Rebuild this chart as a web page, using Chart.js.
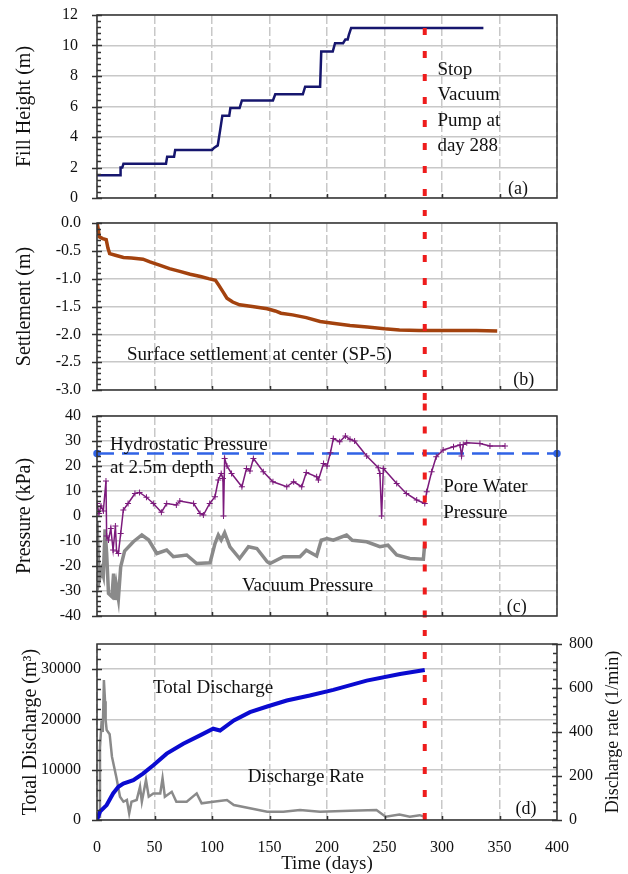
<!DOCTYPE html>
<html>
<head>
<meta charset="utf-8">
<script src="https://cdn.jsdelivr.net/npm/chart.js@4.4.1/dist/chart.umd.min.js"></script>
<style>
	body { margin: 0; background: #fff; width: 628px; height: 874px; position: relative; overflow: hidden; }
	.panel { position: absolute; left: 0; width: 628px; }
</style>
</head>
<body>
<div class="panel" style="top:0;height:210px"><canvas id="fillChart"></canvas></div>
<div class="panel" style="top:210px;height:193px"><canvas id="settleChart"></canvas></div>
<div class="panel" style="top:403px;height:227px"><canvas id="pressureChart"></canvas></div>
<div class="panel" style="top:630px;height:244px"><canvas id="dischargeChart"></canvas></div>
<script>
// ---- values ----
const stopLineDay = 285;

// (a) fill height (m)
const fillDays = [0, 20, 20.5, 22, 23, 60, 61, 67, 68, 100, 102, 105, 107, 109, 115, 116, 124, 126, 153, 155, 179, 181, 194, 195, 205, 207, 214, 216, 218, 219, 221, 336];
const fillHeight = [1.5, 1.5, 2.0, 2.0, 2.25, 2.25, 2.7, 2.7, 3.15, 3.15, 3.3, 3.45, 4.4, 5.4, 5.4, 5.9, 5.9, 6.4, 6.4, 6.8, 6.8, 7.3, 7.3, 9.6, 9.6, 10.15, 10.15, 10.4, 10.4, 10.7, 11.15, 11.15];

// (b) surface settlement (m)
const settleDays = [0, 1, 2, 5, 8, 9.5, 11, 16, 23, 30, 40, 46, 55, 63, 72, 81, 90, 97, 103, 106, 110, 113, 118, 124, 135, 148, 155, 160, 170, 182, 194, 205, 220, 235, 250, 263, 280, 300, 330, 348];
const settlement = [0, -0.1, -0.25, -0.28, -0.3, -0.45, -0.55, -0.58, -0.62, -0.63, -0.65, -0.7, -0.76, -0.82, -0.87, -0.92, -0.96, -1.0, -1.03, -1.12, -1.25, -1.35, -1.42, -1.47, -1.5, -1.54, -1.58, -1.62, -1.65, -1.7, -1.77, -1.8, -1.84, -1.87, -1.9, -1.92, -1.93, -1.93, -1.93, -1.94];

// (c) pressures (kPa)
const hydroDays = [0, 400];
const hydroPressure = [25, 25];
const poreDays = [0, 1.7, 3.5, 5.5, 7.8, 8.4, 10, 12, 14, 16, 17, 18.6, 20.6, 22.9, 27, 33, 37, 43, 49, 56, 60.6, 69, 72, 84, 89.6, 92.5, 98, 102.6, 105.5, 108, 109.5, 110, 111, 113, 117, 126, 130, 133, 136, 144.6, 153, 165, 171, 178, 182, 191, 192.5, 197, 200, 203, 205.5, 211, 216, 220, 224, 234.5, 244.6, 246, 247.5, 249, 260.6, 269, 278, 285, 286.7, 291, 295, 301, 310, 315.7, 317, 318.5, 321.5, 333, 341.7, 354.8];
const porePressure = [5, 1, 4, 2, 14, -8, -9.6, -5, -13.6, -4, -14, -15, -7, 2.4, 5, 9, 9.4, 7.5, 5, 1.5, 5, 4.4, 6, 5, 1, 0.4, 5, 7.7, 14.4, 17, 15, 0, 23, 20, 17, 11.7, 19, 18, 23, 17.7, 13.7, 11.7, 13.7, 11.7, 17.4, 15.7, 14.4, 21, 20, 25.3, 31, 29.7, 32, 30.7, 30, 24, 19.3, 17, 0, 19, 13, 9, 6.4, 5, 9.7, 17.7, 23.7, 26.4, 27.7, 28.4, 24, 28.6, 29.3, 29, 28, 28];
const vacuumDays = [0, 1, 2, 4, 5.5, 7, 8.4, 10, 13, 14.4, 16, 17, 18.6, 20.6, 24, 31.6, 39, 45, 52, 60.6, 66.4, 78, 86.7, 98.3, 102.6, 105.5, 108, 111, 115.6, 124, 131.7, 139, 148, 150.4, 162, 176.5, 182, 191, 195, 200, 205.5, 217, 222, 234.5, 246, 253, 260.6, 272, 283.8, 285];
const vacuumPressure = [-2, -15, -25.6, -21.6, -24, -5.3, -15, -31, -32.3, -23, -33.6, -28.3, -33, -20.3, -14, -10.3, -7.6, -9.6, -15, -13.6, -16.3, -15.6, -19, -18.7, -11, -7.6, -9.6, -6.7, -12.3, -17, -12.3, -13, -18.3, -19, -16.3, -16.3, -13.7, -16, -9.7, -9, -9.7, -7.6, -9.7, -10.3, -12.3, -11.7, -15.6, -17, -17.3, -11];

// (d) total discharge (m3) and discharge rate (l/min)
const dischargeTicks = [0, 10000, 20000, 30000];
const totalDays = [0, 2.6, 8.4, 14, 18.6, 22.9, 31.6, 40, 49, 60.6, 75, 89.6, 101, 107, 119, 133, 148, 165, 185, 205.5, 234.5, 263.5, 285];
const totalDischarge = [0, 1650, 2970, 5280, 6600, 7260, 7920, 9240, 10890, 13200, 15180, 16830, 18150, 17800, 19800, 21450, 22570, 23760, 24750, 25880, 27720, 29050, 29840];
const rateDays = [2, 2.6, 4, 5, 6, 7, 7.5, 8.4, 11, 13, 14.4, 17, 20, 23, 26, 28, 30, 34.5, 37.4, 39, 42.6, 45, 49, 55, 57, 59, 65, 69, 78, 86.7, 91, 101, 113, 119, 133, 148, 162, 176.5, 194, 220, 243, 251, 263, 272, 280.6, 285];
const dischargeRate = [15, 330, 450, 400, 636, 540, 455, 409, 390, 288, 253, 190, 106, 83, 91, 30, 83, 91, 151, 83, 182, 106, 121, 121, 190, 106, 128, 83, 83, 121, 76, 83, 91, 68, 53, 38, 38, 45, 38, 42, 45, 15, 25, 15, 22, 15];

const pts = (xs, ys) => xs.map((x, i) => ({x: x, y: ys[i]}));

Chart.defaults.font.family = '"Liberation Serif", "Times New Roman", serif';
Chart.defaults.font.size = 16;
Chart.defaults.color = '#111';
Chart.defaults.animation = false;
Chart.defaults.plugins.legend.display = false;
Chart.defaults.plugins.tooltip.enabled = false;
Chart.defaults.elements.point.radius = 0;
Chart.defaults.elements.line.tension = 0;

// frame, tick marks, notes
const decor = {
	id: 'decor',
	afterDraw(chart, args, opts) {
		const {ctx, chartArea: a, scales} = chart;
		ctx.save();
		ctx.strokeStyle = '#333';
		ctx.lineWidth = 1.5;
		ctx.strokeRect(a.left, a.top, a.right - a.left, a.bottom - a.top);
		// y tick marks: major cross the axis, minor inside
		(opts.yTicks || []).forEach(t => {
			const s = scales[t.id];
			const x0 = s.position === 'right' ? a.right : a.left;
			const dir = s.position === 'right' ? -1 : 1;
			ctx.beginPath();
			for (let i = 0; ; i++) {
				const v = s.min + i * t.minor;
				if (v > s.max + 1e-9) break;
				const y = Math.round(s.getPixelForValue(v)) + 0.5;
				const major = Math.abs(v / t.major - Math.round(v / t.major)) < 1e-6;
				if (major) {
					ctx.moveTo(x0 - 5, y);
					ctx.lineTo(x0 + 5, y);
				} else {
					ctx.moveTo(x0, y);
					ctx.lineTo(x0 + 4 * dir, y);
				}
			}
			ctx.stroke();
		});
		// x tick marks inside
		const xs = scales.x;
		ctx.beginPath();
		for (let v = 50; v < 400; v += 50) {
			const x = Math.round(xs.getPixelForValue(v)) + 0.5;
			ctx.moveTo(x, a.bottom);
			ctx.lineTo(x, a.bottom - 4);
		}
		ctx.stroke();
		// text notes
		ctx.fillStyle = '#111';
		ctx.textBaseline = 'middle';
		(opts.notes || []).forEach(n => {
			const ys = scales[n.axis || 'y'];
			ctx.font = (n.size || 19) + 'px "Liberation Serif", serif';
			ctx.textAlign = n.align || 'left';
			const x = xs.getPixelForValue(n.x);
			const y = ys.getPixelForValue(n.y);
			n.lines.forEach((line, i) => ctx.fillText(line, x, y + i * (n.lh || 0)));
		});
		if (opts.rightTitle) {
			ctx.font = '18px "Liberation Serif", serif';
			ctx.textAlign = 'center';
			ctx.translate(chart.width - 15, (a.top + a.bottom) / 2);
			ctx.rotate(-Math.PI / 2);
			ctx.fillText(opts.rightTitle, 0, 0);
		}
		ctx.restore();
	}
};

function xAxis(showLabels, height) {
	return {
		type: 'linear', min: 0, max: 400,
		ticks: {display: showLabels, stepSize: 50, padding: 18, maxRotation: 0, autoSkip: false},
		grid: {color: '#c8c8c8', lineWidth: 1.5, drawTicks: false},
		border: {display: false, dash: [9, 3]},
		title: {display: showLabels, text: 'Time (days)', font: {size: 19}, padding: {top: 0, bottom: -1}},
		afterFit: s => { s.height = height; }
	};
}

function yAxis(min, max, step, title, pad, titlePad, fmt) {
	return {
		type: 'linear', min: min, max: max,
		ticks: {stepSize: step, padding: pad, autoSkip: false, callback: fmt || (v => String(v))},
		grid: {color: '#c8c8c8', lineWidth: 1.5, drawTicks: false},
		border: {display: false},
		title: {display: true, text: title, font: {size: 20}, padding: {top: titlePad, bottom: 0}},
		afterFit: s => { s.width = 97; s.paddingTop = 0; s.paddingBottom = 0; }
	};
}

function stopLine(y0, y1, axis) {
	return {
		data: [{x: stopLineDay, y: y0}, {x: stopLineDay, y: y1}],
		yAxisID: axis || 'y',
		borderColor: '#ee1c1c', borderWidth: 4, borderDash: [7, 16],
		clip: false, order: -1
	};
}

// (a) fill height
new Chart(document.getElementById('fillChart'), {
	type: 'line',
	data: {
		datasets: [
			{data: pts(fillDays, fillHeight), borderColor: '#16166e', borderWidth: 2.5},
			stopLine(11.15, -1)
		]
	},
	options: {
		responsive: true, maintainAspectRatio: false,
		layout: {padding: {top: 15, right: 71, left: 0, bottom: 0}},
		scales: {x: xAxis(false, 12), y: yAxis(0, 12, 2, 'Fill Height (m)', 19, 13)},
		plugins: {decor: {
			yTicks: [{id: 'y', major: 2, minor: 0.4}],
			notes: [
				{lines: ['Stop', 'Vacuum', 'Pump at', 'day 288'], x: 296, y: 8.4, lh: 25.5},
				{lines: ['(a)'], x: 366, y: 0.6, align: 'center', size: 18}
			]
		}}
	},
	plugins: [decor]
});

// (b) settlement
new Chart(document.getElementById('settleChart'), {
	type: 'line',
	data: {
		datasets: [
			{data: pts(settleDays, settlement), borderColor: '#a3420e', borderWidth: 3.5},
			stopLine(0.25, -3.3)
		]
	},
	options: {
		responsive: true, maintainAspectRatio: false,
		layout: {padding: {top: 13, right: 71, left: 0, bottom: 0}},
		scales: {x: xAxis(false, 13), y: yAxis(-3, 0, 0.5, 'Settlement (m)', 16, 13, v => v.toFixed(1))},
		plugins: {decor: {
			yTicks: [{id: 'y', major: 0.5, minor: 0.1}],
			notes: [
				{lines: ['Surface settlement at center (SP-5)'], x: 26, y: -2.37},
				{lines: ['(b)'], x: 371, y: -2.82, align: 'center', size: 18}
			]
		}}
	},
	plugins: [decor]
});

// (c) pressures
new Chart(document.getElementById('pressureChart'), {
	type: 'line',
	data: {
		datasets: [
			{data: pts(poreDays, porePressure), borderColor: '#7c1a7c', borderWidth: 1.5,
				pointStyle: 'cross', pointRadius: 3, pointBorderWidth: 1, pointBorderColor: '#7c1a7c'},
			{data: pts(vacuumDays, vacuumPressure), borderColor: '#8a8a8a', borderWidth: 3.5},
			{data: pts(hydroDays, hydroPressure), borderColor: '#3063e6', borderWidth: 2.5, borderDash: [17, 8],
				pointRadius: 2.5, pointBackgroundColor: '#3063e6', pointBorderColor: '#3063e6', clip: false},
			stopLine(45, -46)
		]
	},
	options: {
		responsive: true, maintainAspectRatio: false,
		layout: {padding: {top: 13, right: 71, left: 0, bottom: 0}},
		scales: {x: xAxis(false, 14), y: yAxis(-40, 40, 10, 'Pressure (kPa)', 16, 13)},
		plugins: {decor: {
			yTicks: [{id: 'y', major: 10, minor: 2}],
			notes: [
				{lines: ['Hydrostatic Pressure', 'at 2.5m depth'], x: 11.3, y: 28.4, lh: 23},
				{lines: ['Pore Water', 'Pressure'], x: 301, y: 11.6, lh: 26},
				{lines: ['Vacuum Pressure'], x: 126, y: -28},
				{lines: ['(c)'], x: 365, y: -36.4, align: 'center', size: 18}
			]
		}}
	},
	plugins: [decor]
});

// (d) discharge
const dischargeAxis = yAxis(0, 35000, 10000, 'Total Discharge (m³)', 16, 19);
dischargeAxis.afterBuildTicks = s => { s.ticks = dischargeTicks.map(v => ({value: v})); };

new Chart(document.getElementById('dischargeChart'), {
	type: 'line',
	data: {
		datasets: [
			{data: pts(totalDays, totalDischarge), borderColor: '#0a0ad0', borderWidth: 4},
			{data: pts(rateDays, dischargeRate), yAxisID: 'y1', borderColor: '#8a8a8a', borderWidth: 2.5},
			stopLine(38000, 0)
		]
	},
	options: {
		responsive: true, maintainAspectRatio: false,
		layout: {padding: {top: 14, right: 0, left: 0, bottom: 0}},
		scales: {
			x: xAxis(true, 54),
			y: dischargeAxis,
			y1: {
				type: 'linear', position: 'right', min: 0, max: 800,
				ticks: {stepSize: 200, padding: 12, autoSkip: false},
				grid: {display: false, drawTicks: false},
				border: {display: false},
				afterFit: s => { s.width = 71; s.paddingTop = 0; s.paddingBottom = 0; }
			}
		},
		plugins: {decor: {
			yTicks: [{id: 'y', major: 10000, minor: 2000}, {id: 'y1', major: 200, minor: 40}],
			rightTitle: 'Discharge rate (1/min)',
			notes: [
				{lines: ['Total Discharge'], x: 48.7, y: 26340},
				{lines: ['Discharge Rate'], x: 131, y: 8500},
				{lines: ['(d)'], x: 373, y: 2180, align: 'center', size: 18}
			]
		}}
	},
	plugins: [decor]
});
</script>
</body>
</html>
